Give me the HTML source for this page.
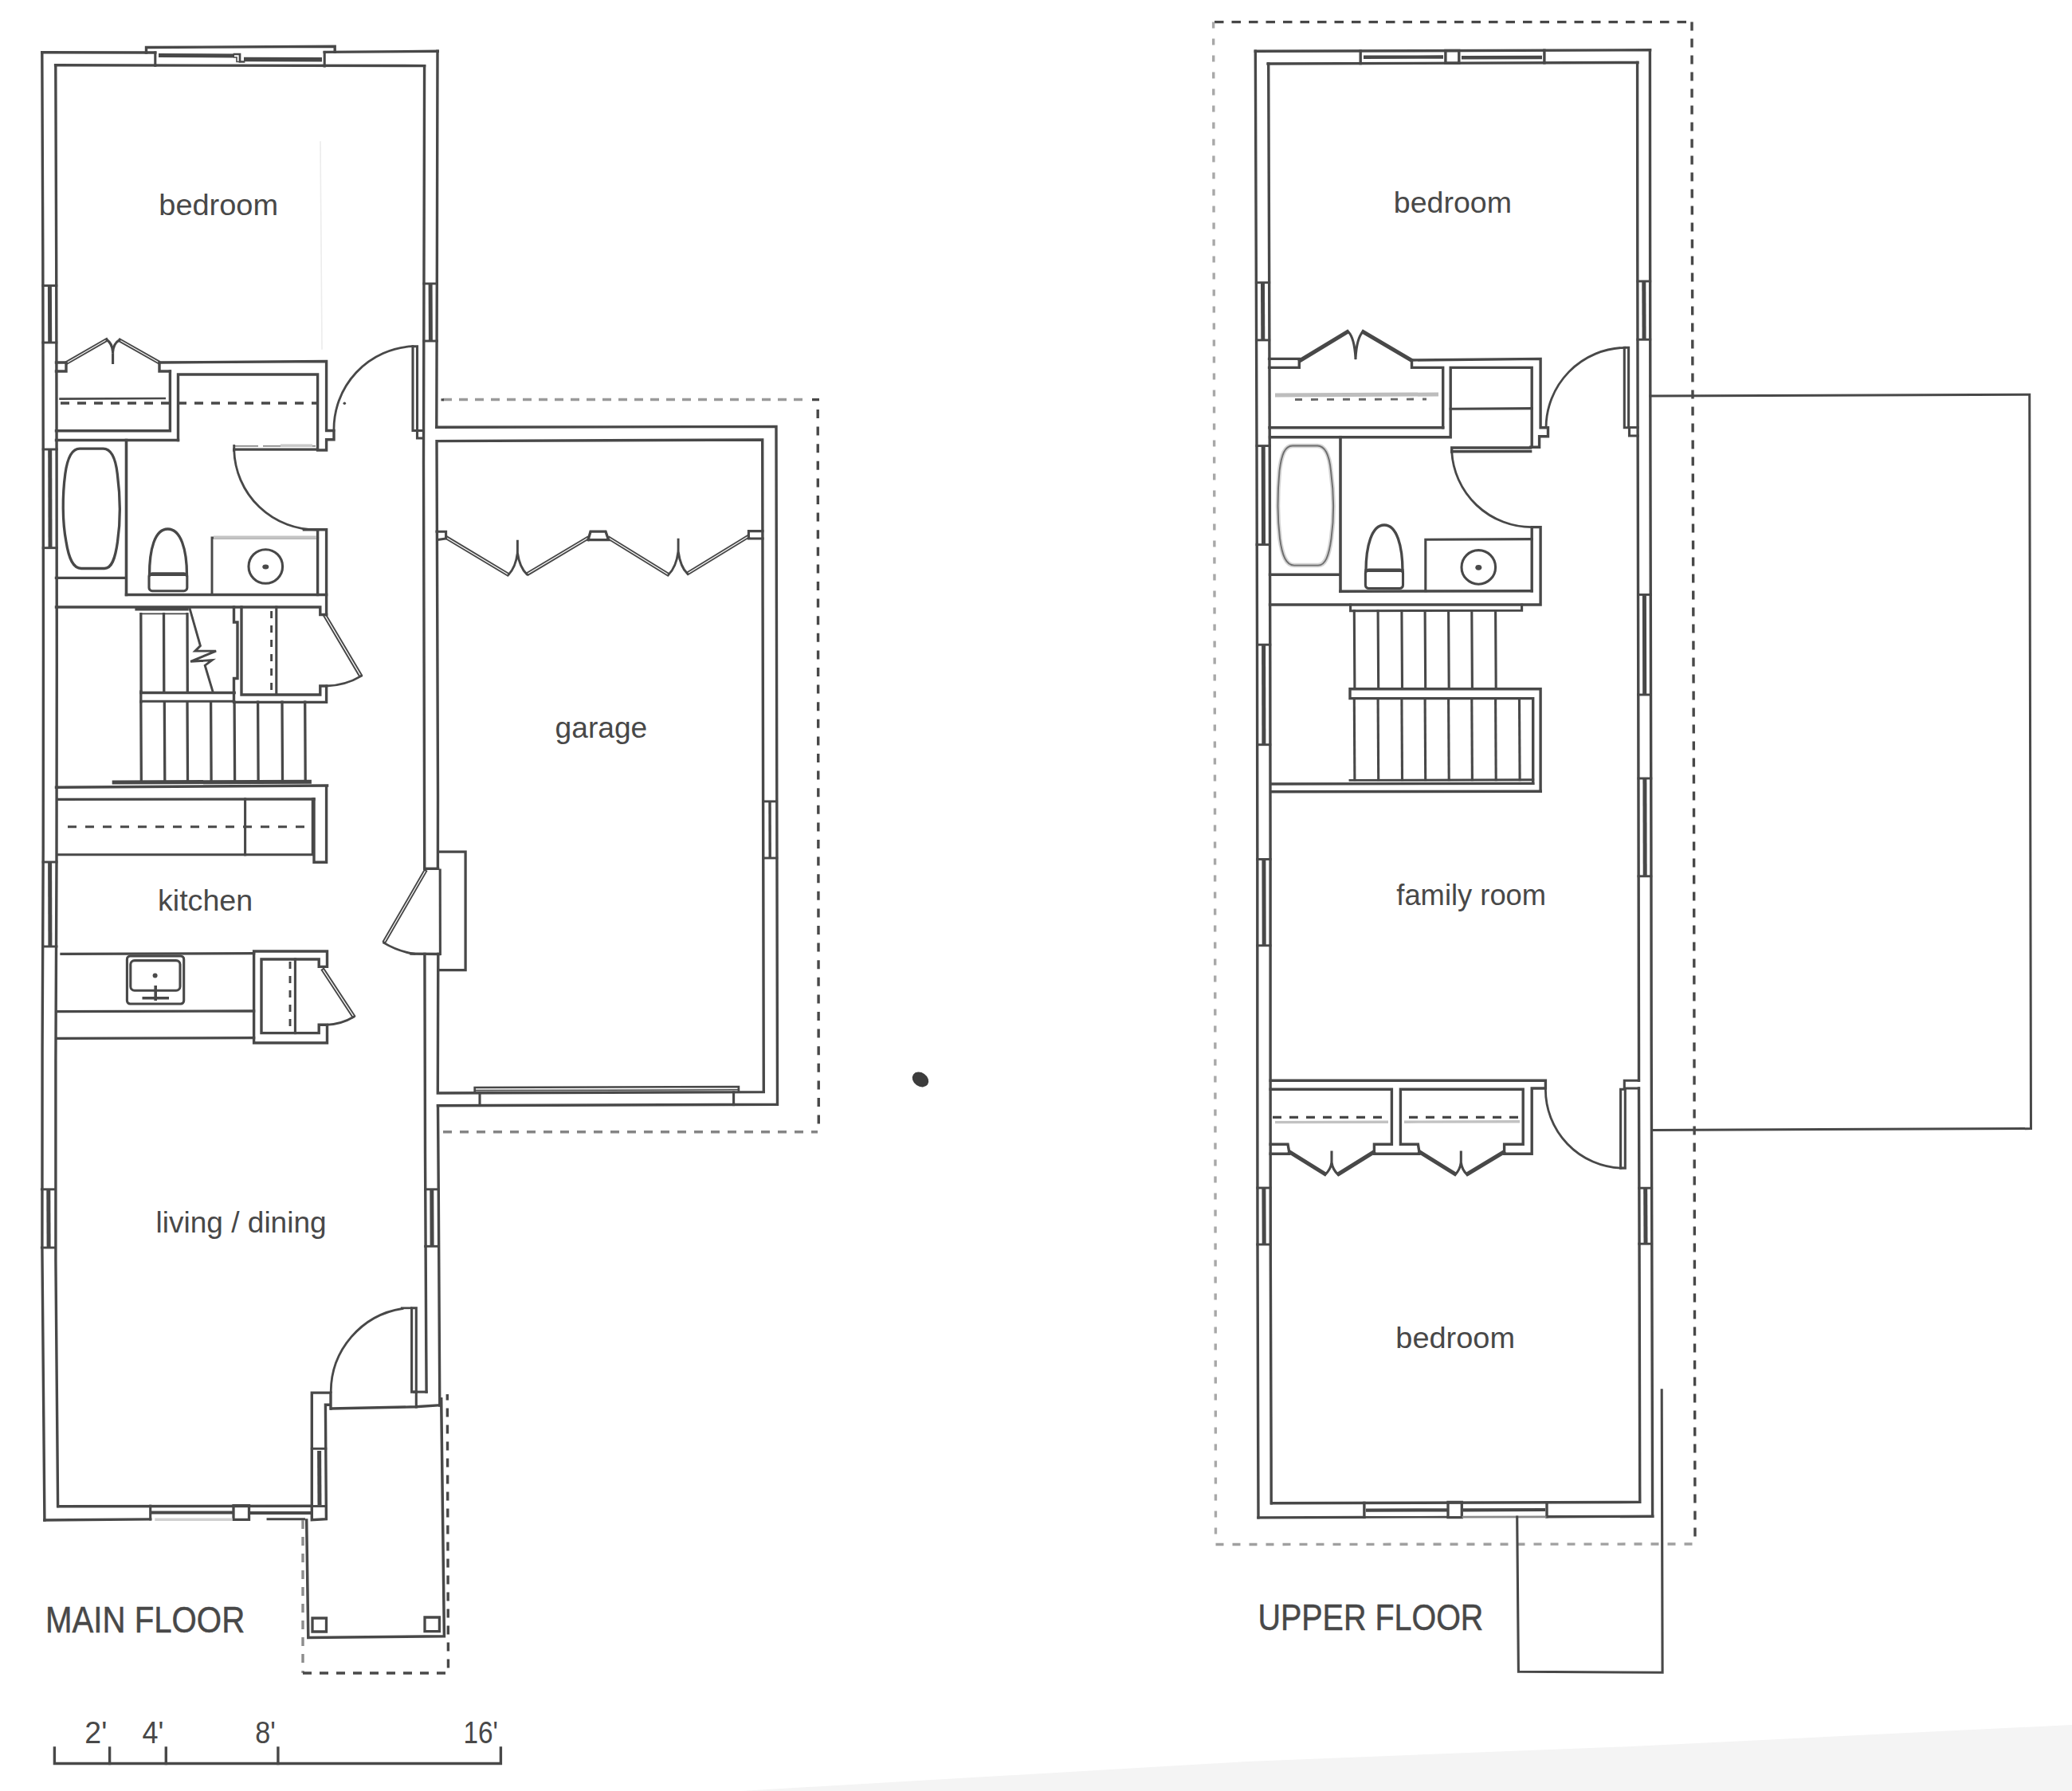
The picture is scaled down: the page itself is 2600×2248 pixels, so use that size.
<!DOCTYPE html>
<html><head><meta charset="utf-8"><title>Floor plans</title>
<style>
html,body{margin:0;padding:0;background:#fff}
svg{display:block}
text{font-family:"Liberation Sans",sans-serif;fill:#484848;stroke:none}
</style></head><body>
<svg width="2600" height="2248" viewBox="0 0 2600 2248" fill="none" stroke="#484848" stroke-width="3.4" stroke-linecap="square" stroke-linejoin="miter">
<rect x="0" y="0" width="2600" height="2248" fill="#ffffff" stroke="none"/>
<g id="main-floor">
<path d="M52.8 65.8 L53.8 315.8 L54.2 565.8 L54.4 815.8 L54.2 1065.8 L53.1 1315.8 L52.9 1565.8 L55.1 1815.8 L55.9 1908"/>
<path d="M69.8 82 L70.7 332 L71.1 582 L71.3 832 L71 1082 L69.9 1332 L69.9 1582 L72.1 1832 L72.6 1890.6"/>
<path d="M52.8 65.8 L194.8 66"/>
<path d="M183.5 66 L183.5 59.5 L420.2 58.3 L420.2 65.2"/>
<path d="M407.2 65.4 L549.3 64.3"/>
<path d="M69.6 81.8 L532.6 82.6"/>
<path d="M194.8 66 L194.8 82.3" stroke-width="3.1"/>
<path d="M407.2 65.5 L407.2 83" stroke-width="3.1"/>
<path d="M199 69.6 L294 69.9" stroke-width="5" stroke-linecap="butt"/>
<path d="M306 74.4 L404 74.7" stroke-width="5.5" stroke-linecap="butt"/>
<path d="M294 68 L301 68 L301 77.5 L306 77.5" stroke-width="2.7"/>
<path d="M294 72 L297 72 L297 77.5 L301 77.5" stroke-width="1.6"/>
<path d="M532.6 82.6 L532 332.6 L531.5 582.6 L532.1 832.6 L532.7 1082.6 L532.7 1090.3"/>
<path d="M532.9 1197.5 L533.5 1447.5 L534.8 1697.5 L535.1 1747.1"/>
<path d="M549 64.3 L548.4 314.3 L547.8 536.3"/>
<path d="M53.9 358.5 L70.8 358.5" stroke-width="2.9"/>
<path d="M53.9 430 L70.8 430" stroke-width="2.9"/>
<path d="M62.4 361 L62.7 428" stroke-width="5"/>
<path d="M54.2 564 L71.1 564" stroke-width="2.9"/>
<path d="M54.2 687.7 L71.1 687.7" stroke-width="2.9"/>
<path d="M62.7 566.5 L63 685.7" stroke-width="5"/>
<path d="M54.1 1082 L71 1082" stroke-width="2.9"/>
<path d="M54.1 1188 L71 1188" stroke-width="2.9"/>
<path d="M62.6 1084.5 L62.9 1186" stroke-width="5"/>
<path d="M52.3 1492.8 L69.2 1492.8" stroke-width="2.9"/>
<path d="M52.3 1566 L69.2 1566" stroke-width="2.9"/>
<path d="M60.8 1495.3 L61.1 1564" stroke-width="5"/>
<path d="M531.9 356 L548.3 356" stroke-width="2.9"/>
<path d="M531.9 428 L548.3 428" stroke-width="2.9"/>
<path d="M540.1 358.5 L540.4 426" stroke-width="5"/>
<path d="M533.6 1492.8 L550 1492.8" stroke-width="2.9"/>
<path d="M533.6 1564.3 L550 1564.3" stroke-width="2.9"/>
<path d="M541.8 1495.3 L542.1 1562.3" stroke-width="5"/>
<path d="M72.8 1890.8 L391.3 1890.2"/>
<path d="M55.9 1908 L188.7 1906.9"/>
<path d="M188.7 1890.2 L188.7 1906.9" stroke-width="3.1"/>
<path d="M190 1898.4 L292 1898.6" stroke-width="4" stroke-linecap="butt"/>
<path d="M314 1899 L391 1899" stroke-width="4" stroke-linecap="butt"/>
<path d="M293 1889.6 L312.5 1889.6 L312.5 1907.4 L293 1907.4 Z" stroke-width="3.3"/>
<path d="M196 1907.2 L290 1907.2" stroke="#cfcfcf"/>
<path d="M336 1906.7 L381.5 1906.7" stroke-width="2.9"/>
<path d="M70.5 455 L83 455 L83 466 L70.5 466"/>
<path d="M84.2 456.8 L135.3 427.3 L133.9 424.7 L82.8 454.2 Z" stroke-width="1.9"/>
<path d="M134.2 426.5 Q141 431 141.6 442 L141.6 455.5 M149.7 426.8 Q142.4 431 141.6 442" stroke-width="3.1"/>
<path d="M148.7 427.8 L198.8 456.3 L200.2 453.7 L150.1 425.2 Z" stroke-width="1.9"/>
<path d="M213.4 466 L200 466 L200 455 L409.6 453.5 L409.6 540.5 L419 540.5 L419 551.8 L409.6 551.8 L409.6 565 L398.6 565 L398.6 470 L223.5 470 L223.5 552.5"/>
<path d="M70.5 540.8 L213.4 540.8 L213.4 466"/>
<path d="M70.5 552.5 L223.5 552.5"/>
<path d="M75.6 500.6 L206.7 500" stroke-width="2.7"/>
<path d="M76 505.9 L398 505.9" stroke-width="3.5" stroke-dasharray="11 10" stroke-linecap="butt"/>
<circle cx="432.3" cy="506.3" r="1.8" fill="#4a4a4a" stroke="none"/>
<path d="M518 434.7 L523.5 434.7 L523.5 540.5 L518 540.5 Z" stroke-width="3.1"/>
<path d="M419 540.5 A104 104 0 0 1 518 434.7" stroke-width="2.8"/>
<path d="M523.5 540.5 L531.4 540.5" stroke-width="3.1"/>
<path d="M523.5 540.5 L523.5 550 L531.4 550" stroke-width="3.1"/>
<path d="M70.5 725.4 L157.5 725.4"/>
<path d="M158.5 552.5 L158.5 746.5" stroke-width="3.6"/>
<path d="M100 563.2 L129.5 563.2 C140 563.2 145 575 147.3 595 C151.2 625 151.2 655 147.5 680 C144.5 702 140 713.5 131 713.5 L102 713.5 C92 713.5 86.5 702 83 680 C78.2 655 78.2 622 81.8 595 C84.5 575 90 563.2 100 563.2 Z" stroke-width="3.3"/>
<path d="M158.5 746.5 L409.6 746.5"/>
<path d="M294 559.8 L397 559.8" stroke-width="1.8" stroke="#8a8a8a" stroke-dasharray="30 6" stroke-linecap="butt"/>
<path d="M293.7 564.2 L398 564.2" stroke-width="3.3"/>
<path d="M293.7 559.5 L293.7 565.5" stroke-width="2.9"/>
<path d="M352 559.2 L392 559.2" stroke="#c8c8c8" stroke-linecap="butt"/>
<path d="M293.7 565 A103 103 0 0 0 398 664.9" stroke-width="2.8"/>
<path d="M381.4 664.8 L409.6 664.8 L409.6 771.5"/>
<path d="M398.6 664.8 L398.6 746.5"/>
<path d="M266 746.5 L266 675 L398.6 675" stroke-width="2.9"/>
<path d="M270 674.5 L395 674.5" stroke-width="4" stroke="#c4c4c4"/>
<circle cx="333.3" cy="711" r="21.3" stroke-width="3.1"/>
<ellipse cx="333.3" cy="711.5" rx="4" ry="3" fill="#4a4a4a" stroke="none"/>
<path d="M187.5 722 C187.5 690 194 664 210.5 664 C227 664 234.5 690 234.5 722" stroke-width="3.3"/>
<rect x="187" y="719.7" width="47.8" height="22" rx="4" stroke-width="3.1"/>
<path d="M188 721 L234 721" stroke-width="4"/>
<path d="M70.5 762 L401.8 762 L401.8 771.5 L409.6 771.5"/>
<path d="M169.4 764.8 L236.7 764.6" stroke-width="3.6" stroke-linecap="butt"/>
<path d="M176.8 770.4 L235 770.4" stroke-width="1.8"/>
<path d="M176.8 770.6 L177.1 868.8" stroke-width="3.3"/>
<path d="M205.5 770.6 L205.8 868.8" stroke-width="3.3"/>
<path d="M235 770.6 L235.3 868.8" stroke-width="3.3"/>
<path d="M238.3 764.6 L251.4 810.6 L244.9 817.1 L271.1 817.1 L239.1 830.3 L266.2 828.6 L257.2 835.2 L267 868" stroke-width="2.9"/>
<path d="M176.8 869.6 L294.1 869.6" stroke-width="3.5"/>
<path d="M176.8 868 L176.8 881" stroke-width="3.3"/>
<path d="M176.8 880.3 L293 880.3" stroke-width="2.9"/>
<path d="M176.8 881.2 L177.3 978.4" stroke-width="3.3"/>
<path d="M206.3 881.2 L206.8 978.4" stroke-width="3.3"/>
<path d="M235 881.2 L235.5 978.4" stroke-width="3.3"/>
<path d="M264.6 881.2 L265.1 978.4" stroke-width="3.3"/>
<path d="M294.1 881.2 L294.6 978.4" stroke-width="3.3"/>
<path d="M323.6 881.2 L324.1 978.4" stroke-width="3.3"/>
<path d="M354 881.2 L354.5 978.4" stroke-width="3.3"/>
<path d="M382.7 881.2 L383.2 978.4" stroke-width="3.3"/>
<path d="M140.7 981.9 L390.9 981.3" stroke-width="5" stroke-linecap="butt"/>
<path d="M70.5 988.2 L410.6 986"/>
<path d="M293.5 762 L293.5 781 L298 781 L298 851.5 L293.5 851.5 L293.5 881.4 L409.6 881.4 L409.6 861 L401.8 861 L401.8 872 L303 872 L303 762"/>
<path d="M340.6 767 L340.6 866" stroke-width="2.9" stroke-dasharray="9 9" stroke-linecap="butt"/>
<path d="M346.8 762 L346.8 871" stroke-width="3.1"/>
<path d="M405.9 772.6 L451.2 849.1 L454 847.5 L408.7 771 Z" stroke-width="1.9"/>
<path d="M453.5 848.4 A88.8 88.8 0 0 1 409.6 861" stroke-width="2.8"/>
<path d="M409.6 987.6 L409.6 1082.2 L394 1082.2 L394 1003"/>
<path d="M72 1003.4 L394 1003"/>
<path d="M72.2 1072.8 L392.3 1072.8 L392.3 1003" stroke-width="3.1"/>
<path d="M307.6 1003 L307.6 1072.8" stroke-width="3.1"/>
<path d="M85 1037.7 L392 1037.7" stroke-width="2.9" stroke-dasharray="11 11" stroke-linecap="butt"/>
<path d="M77 1197.4 L318.6 1196.6" stroke-width="3.3"/>
<path d="M72.8 1269.6 L318.6 1269" stroke-width="3.3"/>
<path d="M72.2 1303.4 L318.6 1302.6" stroke-width="3.3"/>
<rect x="159.4" y="1200" width="71.3" height="60" rx="4" stroke-width="3.1"/>
<rect x="163.8" y="1205.6" width="62.2" height="37.6" rx="5" stroke-width="3.1"/>
<circle cx="194.6" cy="1224.4" r="3" fill="#4a4a4a" stroke="none"/>
<path d="M195.2 1237 L195.2 1256" stroke-width="3.6" stroke-linecap="butt"/>
<path d="M178.5 1252.7 L212 1252.7" stroke-linecap="butt"/>
<path d="M410.5 1213.4 L410.5 1194 L318.6 1194 L318.6 1309 L410.5 1309 L410.5 1286.3 L400.2 1286.3 L400.2 1296.6 L328 1296.6 L328 1204 L400.2 1204 L400.2 1213.4 L410.5 1213.4"/>
<path d="M364 1207 L364 1295" stroke-width="2.9" stroke-dasharray="9 9" stroke-linecap="butt"/>
<path d="M370.4 1204 L370.4 1296.6" stroke-width="3.1"/>
<path d="M403.6 1217.5 L442.7 1277.1 L445.3 1275.3 L406.2 1215.7 Z" stroke-width="1.9"/>
<path d="M444 1276.2 A71.3 71.3 0 0 1 409.6 1286.3" stroke-width="2.8"/>
<path d="M516.6 1641.8 L522.3 1641.8 L522.3 1747.1 L516.6 1747.1 Z" stroke-width="3.1"/>
<path d="M504.3 1641.8 L516 1641.8" stroke-width="2.7"/>
<path d="M415.2 1747.1 A106 106 0 0 1 505 1642.5" stroke-width="2.8"/>
<path d="M519.5 1747.1 L535.1 1747.1" stroke-width="3.1"/>
<path d="M522.3 1747.1 L522.3 1766" stroke-width="3.1"/>
<path d="M415.5 1768 L521.4 1765.8 L551.8 1763.7"/>
<path d="M415 1768 L415 1748.1 L391.3 1748.1 L391.3 1907.6 L409.4 1906.6 L408.4 1763.3 L415 1763.3"/>
<path d="M391.3 1818.3 L408.8 1818.3" stroke-width="2.9"/>
<path d="M391.3 1890.5 L409.2 1890.5" stroke-width="2.9"/>
<path d="M400.6 1821 L401 1889" stroke-width="5" stroke-linecap="butt"/>
<path d="M384.7 1908 L386.8 2055.4 L557.4 2053.7 L553.7 1755.7" stroke-width="3.5"/>
<path d="M380 1908 L380 2100" stroke="#8c8c8c" stroke-dasharray="11 10" stroke-linecap="butt"/>
<path d="M380 2100 L562.5 2100 L561.3 1750" stroke-dasharray="11 10" stroke-linecap="butt"/>
<path d="M392 2031 L409.5 2031 L409.5 2048 L392 2048 Z" stroke-width="3.3"/>
<path d="M533 2030 L551.4 2030 L551.4 2047.6 L533 2047.6 Z" stroke-width="3.3"/>
</g>
<g id="garage">
<path d="M547.7 536.3 L974 535.4 L975.5 1386.3 L549.5 1387.8"/>
<path d="M549.4 1090.3 L549.5 1000 L548 553.6 L956.7 552 L958.3 1370.6 L549.3 1372 L549.8 1197.5"/>
<path d="M549.5 1387.8 L550.3 1500 L551.8 1764"/>
<path d="M532.7 1090.3 L549.6 1090.3"/>
<path d="M516 1197.2 L551.5 1197.5" stroke-width="3.3"/>
<path d="M552.2 1092 L552.4 1197.5" stroke-width="3.1"/>
<path d="M532.7 1091.8 L480.7 1181.8 L483.3 1183.4 L535.3 1093.4 Z" stroke-width="1.9"/>
<path d="M481.6 1183.4 A104.1 104.1 0 0 0 520 1197.2" stroke-width="2.8"/>
<path d="M550.4 1069.1 L584.1 1069.1 L584.1 1217.6 L550.4 1217.6" stroke-width="3.3"/>
<path d="M958 1005.9 L974.6 1005.9" stroke-width="2.9"/>
<path d="M958 1077 L974.8 1077" stroke-width="2.9"/>
<path d="M966 1006 L966.2 1077" stroke-linecap="butt"/>
<path d="M595.7 1371 L595.7 1365 L926.9 1364 L926.9 1370" stroke-width="2.7"/>
<path d="M597 1368.6 L926 1367.8" stroke-width="1.6"/>
<path d="M602 1372 L602 1387.5" stroke-width="3.1"/>
<path d="M920.6 1371 L920.6 1386.6" stroke-width="3.1"/>
<path d="M548 667.2 L559.6 667.2 L559.6 676 L549 677.6" stroke-width="3.1"/>
<path d="M956.9 666.6 L939.4 666.6 L939.4 676 L957 676" stroke-width="3.1"/>
<path d="M738 677.6 L741 667.2 L760 667.2 L763.6 677.6 L738 677.6" stroke-width="3.3"/>
<path d="M558.8 675.7 L637.3 722.8 L638.9 720.2 L560.4 673.1 Z" stroke-width="1.9"/>
<path d="M638.7 720.7 Q647 712 649.4 694 L649.4 679.3 M661 720.7 Q652 712 649.4 694" stroke-width="2.9"/>
<path d="M662.4 721.9 L738.8 676.3 L737.2 673.7 L660.8 719.3 Z" stroke-width="1.9"/>
<path d="M762.8 676.3 L838.2 722.8 L839.8 720.2 L764.4 673.7 Z" stroke-width="1.9"/>
<path d="M839.4 720.7 Q848.5 712 851.1 692 L851.1 677.2 M862.8 720.3 Q853.8 712 851.1 692" stroke-width="2.9"/>
<path d="M863.3 721.3 L940.2 674.3 L938.6 671.7 L861.7 718.7 Z" stroke-width="1.9"/>
<path d="M556 501.5 L1012 501.5" stroke="#9a9a9a" stroke-dasharray="11 9" stroke-linecap="butt"/>
<path d="M553.5 501.8 L557 501.8" stroke-width="3.1" stroke-linecap="butt"/>
<path d="M1026.2 514 L1027.3 1420.8" stroke-dasharray="11 10.6" stroke-linecap="butt"/>
<path d="M1019 501.6 L1028 501.6" stroke-width="3.3" stroke-linecap="butt"/>
<path d="M556 1420.8 L1026 1420.8" stroke="#858585" stroke-dasharray="11 10" stroke-linecap="butt"/>
<ellipse cx="1155" cy="1355" rx="11" ry="8.5" transform="rotate(35 1155 1355)" fill="#3c3c3c" stroke="none"/>
</g>
<g id="upper-floor">
<path d="M1524 27.6 L2123 27.6" stroke-dasharray="11.5 10" stroke-linecap="butt"/>
<path d="M2123 27.6 L2123.1 200 L2124 500 L2125.5 1000 L2126.6 1730 L2127 1938" stroke-dasharray="11 10" stroke-linecap="butt"/>
<path d="M1522.6 27.6 L1523.5 500 L1524.5 1000 L1525.5 1938" stroke="#a8a8a8" stroke-dasharray="8 13" stroke-linecap="butt"/>
<path d="M1525.5 1938.5 L2127 1938" stroke="#a0a0a0" stroke-dasharray="10 11" stroke-linecap="butt"/>
<path d="M1575.3 64.3 L1576.2 314.3 L1577 564.3 L1577.5 814.3 L1577.8 1064.3 L1577.8 1314.3 L1578 1564.3 L1578.7 1814.3 L1579 1904.9"/>
<path d="M2070.4 62.8 L2070.6 312.8 L2070.9 562.8 L2071.4 812.8 L2071.9 1062.8 L2072.2 1312.8 L2072.8 1562.8 L2073.4 1812.8 L2073.6 1903.3"/>
<path d="M1575.3 64.3 L2070.6 62.8"/>
<path d="M1579 1904.9 L1711.9 1904.4"/>
<path d="M1941 1903.7 L2073.8 1903.3"/>
<path d="M1591 80 L2055 78.5"/>
<path d="M1595.7 1886.7 L2057 1885.4"/>
<path d="M1591.7 80 L1592.6 330 L1593.3 580 L1593.8 830 L1594.1 1080 L1594.1 1330 L1594.3 1580 L1595.1 1830 L1595.2 1886.7"/>
<path d="M2054.6 78.5 L2054.8 328.5 L2055.2 578.5 L2055.7 828.5 L2056.1 1078.5 L2056.5 1328.5 L2056.5 1356.2"/>
<path d="M2056.5 1366 L2057.2 1616 L2057.7 1866 L2057.8 1885.4"/>
<path d="M1707.2 63.9 L1707.2 79.6"/>
<path d="M1937.9 63.2 L1937.9 78.9"/>
<path d="M1813.9 63.5 L1830.8 63.5 L1830.8 79.3 L1813.9 79.3 Z"/>
<path d="M1711 71.8 L1811 71.5" stroke-width="4.4" stroke-linecap="butt"/>
<path d="M1834 72.3 L1935 72" stroke-width="4.4" stroke-linecap="butt"/>
<path d="M1711.9 1886.4 L1711.9 1904.4"/>
<path d="M1941 1885.7 L1941 1903.7"/>
<path d="M1817 1885.4 L1834.3 1885.4 L1834.3 1904.6 L1817 1904.6 Z" stroke-width="3.3"/>
<path d="M1714 1895.6 L1816 1895.3" stroke-width="4.2" stroke-linecap="butt"/>
<path d="M1836 1895.3 L1939 1895" stroke-width="4.2" stroke-linecap="butt"/>
<path d="M1714 1904.4 L1816 1904.2" stroke-width="2.7"/>
<path d="M1836 1904.2 L1939 1903.9" stroke-width="2.7" stroke="#8a8a8a"/>
<path d="M1576.4 354.7 L1592.7 354.7" stroke-width="2.9"/>
<path d="M1576.4 426.9 L1592.7 426.9" stroke-width="2.9"/>
<path d="M1584.5 357.2 L1584.8 424.9" stroke-width="5"/>
<path d="M1577 559.6 L1593.3 559.6" stroke-width="2.9"/>
<path d="M1577 683.6 L1593.3 683.6" stroke-width="2.9"/>
<path d="M1585.2 562.1 L1585.5 681.6" stroke-width="5"/>
<path d="M1577.5 809.2 L1593.8 809.2" stroke-width="2.9"/>
<path d="M1577.5 934.7 L1593.8 934.7" stroke-width="2.9"/>
<path d="M1585.6 811.7 L1585.9 932.7" stroke-width="5"/>
<path d="M1577.8 1078.5 L1594.1 1078.5" stroke-width="2.9"/>
<path d="M1577.8 1186.8 L1594.1 1186.8" stroke-width="2.9"/>
<path d="M1585.9 1081 L1586.2 1184.8" stroke-width="5"/>
<path d="M1577.8 1491 L1594.1 1491" stroke-width="2.9"/>
<path d="M1577.8 1562 L1594.1 1562" stroke-width="2.9"/>
<path d="M1585.9 1493.5 L1586.2 1560" stroke-width="5"/>
<path d="M2054.9 353 L2070.7 353" stroke-width="2.9"/>
<path d="M2054.9 426.2 L2070.7 426.2" stroke-width="2.9"/>
<path d="M2062.8 355.5 L2063.1 424.2" stroke-width="5"/>
<path d="M2055.5 746.4 L2071.3 746.4" stroke-width="2.9"/>
<path d="M2055.5 872 L2071.3 872" stroke-width="2.9"/>
<path d="M2063.4 748.9 L2063.7 870" stroke-width="5"/>
<path d="M2056 977 L2071.8 977" stroke-width="2.9"/>
<path d="M2056 1099.8 L2071.8 1099.8" stroke-width="2.9"/>
<path d="M2063.9 979.5 L2064.2 1097.8" stroke-width="5"/>
<path d="M2056.8 1491.2 L2072.6 1491.2" stroke-width="2.9"/>
<path d="M2056.8 1561.2 L2072.6 1561.2" stroke-width="2.9"/>
<path d="M2064.7 1493.7 L2065 1559.2" stroke-width="5"/>
<path d="M1592.6 450.4 L1630.3 450.4 L1630.3 461.4 L1592.6 461.4"/>
<path d="M1631.1 454 L1692.1 417 L1690.9 415 L1629.9 452 Z" stroke-width="2.7"/>
<path d="M1691.9 416.5 Q1699.5 424 1701 449.5 M1710.2 416.5 Q1702.5 424 1701 449.5" stroke-width="3.1"/>
<path d="M1709.1 417 L1770.9 453.5 L1772.1 451.5 L1710.3 415 Z" stroke-width="2.7"/>
<path d="M1810.7 536.7 L1810.7 461.4 L1771.5 461.4 L1771.5 452 L1933.1 450.4 L1933.1 536.7 L1942.5 536.7 L1942.5 547.7 L1931.6 547.7 L1931.6 561.2 L1920.6 561.2"/>
<path d="M1593 536.7 L1810.7 536.7"/>
<path d="M1593.5 548.7 L1820.2 548.7 L1820.2 461.4 L1922.2 461.4 L1922.2 561.2"/>
<path d="M1820.2 513.2 L1922.2 512.6" stroke-width="3.1"/>
<path d="M1600 496 L1805 495" stroke-width="5" stroke="#bdbdbd" stroke-linecap="butt"/>
<path d="M1625 501.5 L1790 501" stroke-width="2.9" stroke="#6a6a6a" stroke-dasharray="9 11" stroke-linecap="butt"/>
<path d="M2038.3 436.3 L2043.6 436.3 L2043.6 536.7 L2038.3 536.7 Z" stroke-width="3.1"/>
<path d="M1940 536.7 A101 101 0 0 1 2038.3 436.3" stroke-width="2.8"/>
<path d="M2044.5 536.5 L2044.5 547 L2055.1 547" stroke-width="3.1"/>
<path d="M2044.5 536.5 L2055.1 536.5" stroke-width="2.9"/>
<path d="M1593.5 721.3 L1681 721.3"/>
<path d="M1682 548.7 L1682 742.3" stroke-width="3.6"/>
<path d="M1622 559.5 L1653 559.5 C1663 559.5 1668 571 1670 591 C1674 621 1674 651 1670.5 676 C1667.5 698 1663 709.6 1654 709.6 L1624 709.6 C1614 709.6 1609 698 1606 676 C1603 651 1603 618 1605.5 591 C1608 571 1612 559.5 1622 559.5 Z" stroke-width="5.5" stroke="#d4d4d4"/>
<path d="M1622 559.5 L1653 559.5 C1663 559.5 1668 571 1670 591 C1674 621 1674 651 1670.5 676 C1667.5 698 1663 709.6 1654 709.6 L1624 709.6 C1614 709.6 1609 698 1606 676 C1603 651 1603 618 1605.5 591 C1608 571 1612 559.5 1622 559.5 Z" stroke-width="1.9" stroke="#6e6e6e"/>
<path d="M1682 742.3 L1922.2 741.7" stroke-width="3.5"/>
<path d="M1821.7 566.8 L1821.7 562 L1920.6 562" stroke-width="3.3"/>
<path d="M1821.7 566.8 L1920.6 566.5" stroke-width="3.5"/>
<path d="M1821.7 566.5 A100.4 100.4 0 0 0 1922.2 661.6" stroke-width="2.8"/>
<path d="M1922.2 741.7 L1922.2 661.6 L1933.1 661.6 L1933.1 759 L1593.5 759"/>
<path d="M1788.8 741.7 L1788.8 677.3 L1922.2 676.6" stroke-width="3.1"/>
<circle cx="1855.3" cy="711.9" r="21.3" stroke-width="3.1"/>
<ellipse cx="1855.3" cy="712.3" rx="4" ry="3.4" fill="#4a4a4a" stroke="none"/>
<path d="M1714 717 C1714 686 1721 659 1737 659 C1753 659 1760 686 1760 717" stroke-width="3.3"/>
<rect x="1713.4" y="715" width="47.1" height="23.5" rx="4" stroke-width="3.1"/>
<path d="M1714.5 716 L1759.5 716" stroke-width="4"/>
<path d="M1694.6 759 L1694.6 766.8 L1909.6 766.2 L1909.6 759" stroke-width="3.1"/>
<path d="M1699.3 766.8 L1699.9 864.1" stroke-width="3.1"/>
<path d="M1729.1 766.8 L1729.7 864.1" stroke-width="3.1"/>
<path d="M1758.9 766.8 L1759.5 864.1" stroke-width="3.1"/>
<path d="M1788.1 766.8 L1788.7 864.1" stroke-width="3.1"/>
<path d="M1817.6 766.8 L1818.2 864.1" stroke-width="3.1"/>
<path d="M1846.8 766.8 L1847.4 864.1" stroke-width="3.1"/>
<path d="M1876.6 766.8 L1877.2 864.1" stroke-width="3.1"/>
<path d="M1933.1 993.4 L1933.1 864.7 L1694 864.7 L1694 876.6 L1923.7 876.6 L1923.7 983.4"/>
<path d="M1699.3 876.6 L1699.9 978.7" stroke-width="3.1"/>
<path d="M1729.1 876.6 L1729.7 978.7" stroke-width="3.1"/>
<path d="M1758.9 876.6 L1759.5 978.7" stroke-width="3.1"/>
<path d="M1788.1 876.6 L1788.7 978.7" stroke-width="3.1"/>
<path d="M1817.6 876.6 L1818.2 978.7" stroke-width="3.1"/>
<path d="M1846.8 876.6 L1847.4 978.7" stroke-width="3.1"/>
<path d="M1876.6 876.6 L1877.2 978.7" stroke-width="3.1"/>
<path d="M1906.5 876.6 L1907.1 978.7" stroke-width="3.1"/>
<path d="M1694 979.4 L1923.7 978.8" stroke-width="2.9"/>
<path d="M1594.8 984 L1923.7 983.4"/>
<path d="M1594.8 993.8 L1933.1 993.2" stroke-width="3.5"/>
<path d="M1594.2 1356.2 L1939.4 1356.2 L1939.4 1366 L1922.2 1366 L1922.2 1448.2 L1887.6 1448.2 L1887.6 1436.3 L1911.2 1436.3 L1911.2 1367.2 L1757.4 1367.2 L1757.4 1436.3 L1779.4 1436.3 L1780.9 1446 L1780.9 1448.2 L1724.4 1448.2 L1724.4 1436.3 L1746.4 1436.3 L1746.4 1367.2 L1594.2 1367.2"/>
<path d="M1594.2 1436.3 L1616 1436.3 L1617.7 1446 L1617.7 1448.2 L1594.2 1448.2"/>
<path d="M1617.1 1446.7 L1662.6 1475 L1663.8 1473 L1618.3 1444.7 Z" stroke-width="2.7"/>
<path d="M1663.2 1474 Q1669.8 1468 1671 1459 L1671 1446 M1678.9 1474 Q1672.2 1468 1671 1459" stroke-width="3.1"/>
<path d="M1679.5 1475 L1725 1446.7 L1723.8 1444.7 L1678.3 1473 Z" stroke-width="2.7"/>
<path d="M1780.3 1446.7 L1825.8 1475 L1827 1473 L1781.5 1444.7 Z" stroke-width="2.7"/>
<path d="M1826.4 1474 Q1832.2 1468 1833.3 1459 L1833.3 1446 M1840.6 1474 Q1834.5 1468 1833.3 1459" stroke-width="3.1"/>
<path d="M1841.2 1475 L1888.2 1446.7 L1887 1444.7 L1840 1473 Z" stroke-width="2.7"/>
<path d="M1597 1402.4 L1744 1402.4" stroke-dasharray="11 10" stroke-linecap="butt"/>
<path d="M1768 1402.4 L1909 1402.4" stroke-dasharray="11 10" stroke-linecap="butt"/>
<path d="M1600 1408.6 L1742 1408.2" stroke="#c2c2c2" stroke-linecap="butt"/>
<path d="M1762 1408.2 L1907 1407.8" stroke="#c2c2c2" stroke-linecap="butt"/>
<path d="M2033.6 1367.2 L2039.3 1367.2 L2039.3 1466.1 L2033.6 1466.1 Z" stroke-width="3.1"/>
<path d="M1939.4 1367.2 A98.6 98.6 0 0 0 2034 1466.1" stroke-width="2.8"/>
<path d="M2056.5 1356.2 L2038.3 1356.2 L2038.3 1366 L2056.5 1366" stroke-width="3.1"/>
<path d="M2071 497 L2546.7 495.2 L2548.5 1416.6 L2074.6 1418.4" stroke-width="3"/>
<path d="M1903.7 1904 L1905.4 2098.3 L2086.1 2099.3 L2085.2 1744.8" stroke-width="3.1"/>
</g>
<g id="labels">
<text x="199.3" y="270.4" font-size="36" textLength="149.8" lengthAdjust="spacingAndGlyphs">bedroom</text>
<text x="198" y="1142.8" font-size="36" textLength="119.2" lengthAdjust="spacingAndGlyphs">kitchen</text>
<text x="195.6" y="1546.8" font-size="36" textLength="214" lengthAdjust="spacingAndGlyphs">living / dining</text>
<text x="696.6" y="925.5" font-size="36" textLength="115.7" lengthAdjust="spacingAndGlyphs">garage</text>
<text x="56.9" y="2048.7" font-size="47" style="stroke:#484848;stroke-width:0.5" textLength="250.3" lengthAdjust="spacingAndGlyphs">MAIN FLOOR</text>
<text x="1748.8" y="267.4" font-size="36" textLength="148.2" lengthAdjust="spacingAndGlyphs">bedroom</text>
<text x="1752.3" y="1135.6" font-size="36" textLength="187.8" lengthAdjust="spacingAndGlyphs">family room</text>
<text x="1751.3" y="1692.1" font-size="36" textLength="149.7" lengthAdjust="spacingAndGlyphs">bedroom</text>
<text x="1578.4" y="2046.4" font-size="47" style="stroke:#484848;stroke-width:0.5" textLength="283" lengthAdjust="spacingAndGlyphs">UPPER FLOOR</text>
<text x="106.3" y="2187.9" font-size="38" textLength="28" lengthAdjust="spacingAndGlyphs">2'</text>
<text x="178.4" y="2187.9" font-size="38" textLength="26.9" lengthAdjust="spacingAndGlyphs">4'</text>
<text x="320.3" y="2187.9" font-size="38" textLength="25.5" lengthAdjust="spacingAndGlyphs">8'</text>
<text x="581.4" y="2187.9" font-size="38" textLength="43.5" lengthAdjust="spacingAndGlyphs">16'</text>
</g>
<g id="scale-bar">
<path d="M68.4 2194 L68.4 2213.5 L628.4 2213.5 L628.4 2194"/>
<path d="M137.6 2194 L137.6 2213.5"/>
<path d="M208.3 2194 L208.3 2213.5"/>
<path d="M348.9 2194 L348.9 2213.5"/>
</g>
<path d="M930 2248 L1565 2211 L2048 2192 L2600 2165 L2600 2248 Z" fill="#f4f4f4" stroke="none"/>
<path d="M402 178 L404 438" stroke-width="1.6" stroke="#ececec"/>
</svg>
</body></html>
